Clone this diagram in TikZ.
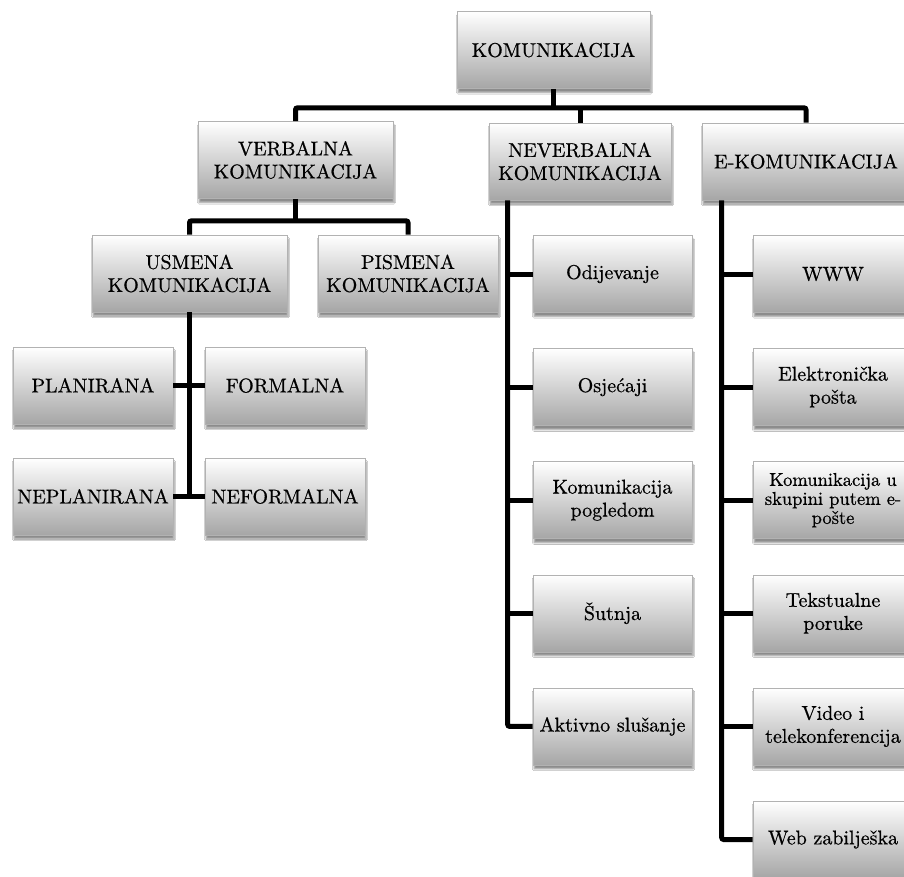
\documentclass[tikz,border=0pt]{standalone}
\usepackage{fontspec}
\setmainfont{lmroman10-regular.otf}[FakeBold=0.6]
\usetikzlibrary{positioning,calc,shadows.blur}

\begin{document}
\begin{tikzpicture}[x=1pt,y=-1pt,
    box/.style={rectangle,draw=black!30,line width=0.6pt,top color=white,bottom color=black!35,
        minimum height=77pt,inner sep=1pt,align=center,
        font=\fontsize{20}{23}\selectfont,
        blur shadow={shadow xshift=1pt,shadow yshift=-4pt,shadow blur steps=6,shadow opacity=45}},
    conn/.style={line width=5pt,rounded corners=2pt}]
    \path[use as bounding box,fill=white] (0,0) rectangle (904,877);

    % Top level
    \node[box,minimum width=193pt] (kom) at (553.5,50) {KOMUNIKACIJA};

    % Second level
    \node[box,minimum width=195pt] (verb) at (295.5,160) {VERBALNA\\KOMUNIKACIJA};
    \node[box,minimum width=182pt] (never) at (580,161.5) {NEVERBALNA\\KOMUNIKACIJA};
    \node[box,minimum width=208pt] (ekom) at (806,161.5) {E-KOMUNIKACIJA};

    % Verbal communication
    \node[box,minimum width=195pt] (usm) at (189.5,273.5) {USMENA\\KOMUNIKACIJA};
    \node[box,minimum width=180pt] (pism) at (408,273.5) {PISMENA\\KOMUNIKACIJA};
    \node[box,minimum width=160pt] (plan) at (93,385.5) {PLANIRANA};
    \node[box,minimum width=160pt] (form) at (285,385.5) {FORMALNA};
    \node[box,minimum width=160pt] (neplan) at (93,496.5) {NEPLANIRANA};
    \node[box,minimum width=160pt] (neform) at (285,496.5) {NEFORMALNA};

    % Nonverbal communication
    \node[box,minimum width=159pt] (odij) at (612.5,274) {Odijevanje};
    \node[box,minimum width=159pt,below=35.5pt of odij] (osje) {Osjećaji};
    \node[box,minimum width=159pt,below=35.5pt of osje] (pogl) {Komunikacija\\pogledom};
    \node[box,minimum width=159pt,below=35.5pt of pogl] (sutn) {Šutnja};
    \node[box,minimum width=159pt,below=35.5pt of sutn] (aktiv) {Aktivno slušanje};

    % E-communication
    \node[box,minimum width=160pt] (www) at (833,274) {WWW};
    \node[box,minimum width=160pt,below=35.5pt of www] (epost) {Elektronička\\pošta};
    \node[box,minimum width=160pt,below=35.5pt of epost,font=\fontsize{18.5}{19}\selectfont] (grupa) {Komunikacija u\\skupini putem e-\\pošte};
    \node[box,minimum width=160pt,below=35.5pt of grupa] (tekst) {Tekstualne\\poruke};
    \node[box,minimum width=160pt,below=35.5pt of tekst] (video) {Video i\\telekonferencija};
    \node[box,minimum width=160pt,below=35.5pt of video] (web) {Web zabilješka};

    % Connectors
    \coordinate (b1) at ($(kom.south)+(0,19)$);
    \draw[conn] (kom.south) -- (b1);
    \draw[conn] (verb.north) |- (b1) -| (ekom.north);
    \draw[conn] (never.north) -- (never.north |- b1);

    \coordinate (b2) at ($(verb.south)+(0,22)$);
    \draw[conn] (verb.south) -- (b2);
    \draw[conn] (usm.north) |- (b2) -| (pism.north);

    \draw[conn] (usm.south) -- (usm.south |- neplan.east);
    \draw[conn] (plan.east) -- (form.west);
    \draw[conn] (neplan.east) -- (neform.west);

    \coordinate (nv) at ($(never.south west)+(19,0)$);
    \draw[conn] (nv) |- (aktiv.west);
    \foreach \n in {odij,osje,pogl,sutn} \draw[conn] (nv |- \n.west) -- (\n.west);

    \coordinate (ev) at ($(ekom.south west)+(20,0)$);
    \draw[conn] (ev) |- (web.west);
    \foreach \n in {www,epost,grupa,tekst,video} \draw[conn] (ev |- \n.west) -- (\n.west);
\end{tikzpicture}
\end{document}
